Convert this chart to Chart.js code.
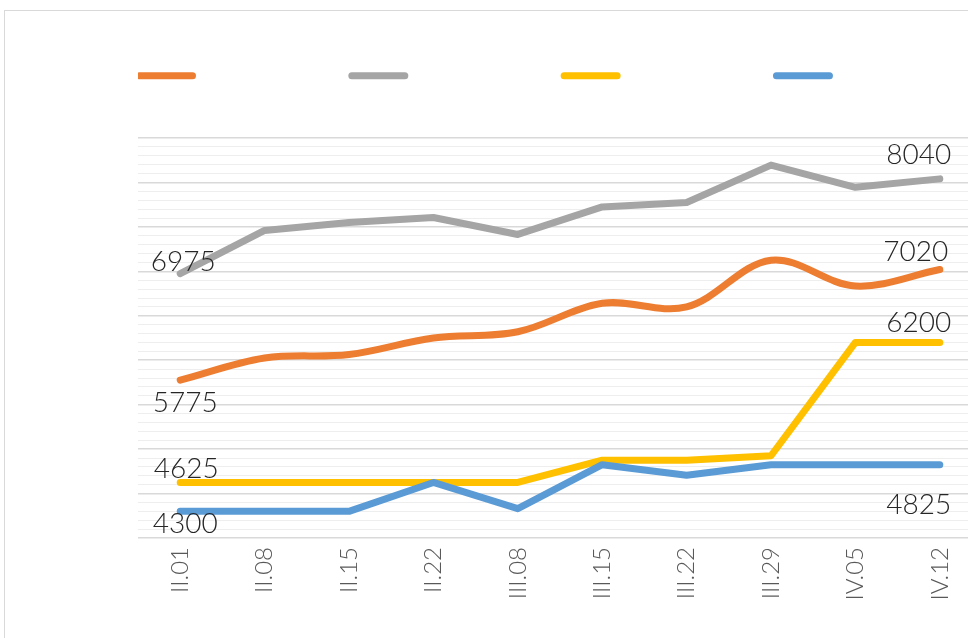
<!DOCTYPE html>
<html>
<head>
<meta charset="utf-8">
<script src="https://cdn.jsdelivr.net/npm/chart.js@4/dist/chart.umd.min.js"></script>
<style>
  html, body { margin: 0; padding: 0; background: #fff; overflow: hidden; }
  #box { position: absolute; left: 4px; top: 10px; width: 1000px; height: 640px; border: 1px solid #d9d9d9; }
</style>
</head>
<body>
<div id="box"><canvas id="weeklyChart" width="1000" height="627"></canvas></div>
<script>
const weeks = ["II.01", "II.08", "II.15", "II.22", "III.08", "III.15", "III.22", "III.29", "IV.05", "IV.12"];
const orangeSeries = [5775, 6025, 6065, 6250, 6320, 6640, 6600, 7125, 6835, 7020];
const greySeries = [6975, 7460, 7550, 7605, 7415, 7725, 7775, 8195, 7945, 8040];
const yellowSeries = [4625, 4625, 4625, 4625, 4625, 4875, 4875, 4925, 6200, 6200];
const blueSeries = [4300, 4300, 4300, 4625, 4330, 4825, 4705, 4825, 4825, 4825];

// legend has no visible text, just blank space between the swatches
const legendGap = " ".repeat(23);

// where the first / last value labels sit relative to their point
const endLabelOffsets = [
  { first: [5, 22], last: [-24, -19] },
  { first: [3, -13], last: [-21, -25] },
  { first: [6, -14.5], last: [-21, -20.5] },
  { first: [5, 11.5], last: [-21, 39] },
];

const endLabels = {
  id: "endLabels",
  afterDatasetsDraw(chart) {
    const c = chart.ctx;
    c.save();
    c.font = "300 28px Lato";
    c.fillStyle = "#262626";
    c.textAlign = "center";
    c.textBaseline = "alphabetic";
    chart.data.datasets.forEach((ds, i) => {
      const pts = chart.getDatasetMeta(i).data;
      const off = endLabelOffsets[i];
      const a = pts[0];
      const b = pts[pts.length - 1];
      c.fillText(String(ds.data[0]), a.x + off.first[0], a.y + off.first[1] + 10);
      c.fillText(String(ds.data[ds.data.length - 1]), b.x + off.last[0], b.y + off.last[1] + 10);
    });
    c.restore();
  },
};

// push the plot down below the legend
const legendSpace = {
  id: "legendSpace",
  beforeInit(chart) {
    const fit = chart.legend.fit;
    chart.legend.fit = function () {
      fit.bind(chart.legend)();
      this.height += 46.8;
    };
  },
};

function line(data, color, order, tension, label) {
  return {
    label: label,
    data: data,
    borderColor: color,
    backgroundColor: color,
    borderWidth: 7,
    borderCapStyle: "round",
    borderJoinStyle: "round",
    pointRadius: 0,
    tension: tension,
    order: order,
    fill: false,
  };
}

const ctx = document.getElementById("weeklyChart").getContext("2d");
const weeklyChart = new Chart(ctx, {
  type: "line",
  data: {
    labels: weeks,
    datasets: [
      line(orangeSeries, "#ed7d31", 3, 0.35, legendGap),
      line(greySeries, "#a5a5a5", 2, 0, legendGap),
      line(yellowSeries, "#ffc000", 1, 0, legendGap),
      line(blueSeries, "#5b9bd5", 0, 0, ""),
    ],
  },
  options: {
    responsive: false,
    animation: false,
    events: [],
    layout: { padding: { top: 57.7, left: 133, right: 23, bottom: 0 } },
    plugins: {
      tooltip: { enabled: false },
      legend: {
        position: "top",
        align: "start",
        labels: {
          usePointStyle: true,
          pointStyle: "line",
          pointStyleWidth: 53,
          padding: 1.5,
          font: { family: "DejaVu Sans Mono", size: 11 },
          color: "#595959",
          sort: (a, b) => a.datasetIndex - b.datasetIndex,
          generateLabels: (chart) =>
            Chart.defaults.plugins.legend.labels
              .generateLabels(chart)
              .map((item) => Object.assign(item, { lineCap: "round" })),
        },
      },
    },
    scales: {
      x: {
        offset: true,
        grid: { display: false, drawTicks: false },
        border: { display: false },
        ticks: {
          minRotation: 90,
          maxRotation: 90,
          padding: 9,
          color: "#595959",
          font: { family: "Lato", size: 24, weight: "300" },
        },
        afterFit(scale) {
          scale.height = 100;
        },
      },
      y: {
        min: 4000,
        max: 8500,
        border: { display: false },
        grid: {
          drawTicks: false,
          color: (c) => (c.tick.value % 500 === 0 ? "#d9d9d9" : "#eeeeee"),
          lineWidth: (c) => (c.tick.value % 500 === 0 ? 1.5 : 1),
        },
        ticks: { display: false, stepSize: 100 },
      },
    },
  },
  plugins: [endLabels, legendSpace],
});
</script>
</body>
</html>
